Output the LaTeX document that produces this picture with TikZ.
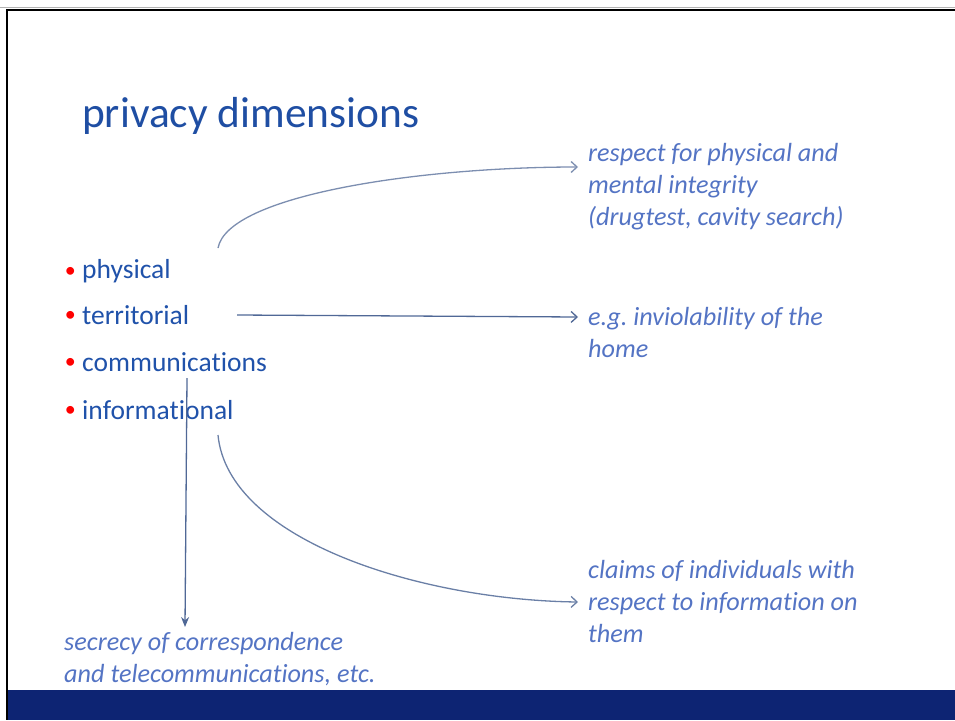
\documentclass[tikz,border=0pt]{standalone}
\usepackage{fontspec}
\setmainfont[Ligatures=NoCommon]{Carlito}
\usepackage{tikz}
\usetikzlibrary{positioning, arrows.meta}
\frenchspacing
\definecolor{titleblue}{RGB}{31,78,163}
\definecolor{itemblue}{RGB}{32,82,170}
\definecolor{notecol}{RGB}{84,116,196}
\definecolor{arrowcol}{RGB}{80,104,150}
\definecolor{bandblue}{RGB}{13,36,115}

\tikzset{
  item/.style={anchor=base west, inner sep=0pt, text=itemblue,
    font=\fontsize{27.5}{30}\selectfont,
    label={[text=red, font=\fontsize{22}{24}\selectfont, inner sep=0pt, xshift=-6pt, yshift=-2pt]left:\textbullet}},
  note/.style={anchor=north west, inner sep=0pt, text=notecol, align=left,
    font=\fontsize{26.2}{32}\selectfont\itshape},
  link/.style={arrowcol, line width=1.3pt, -{Straight Barb[length=6pt,width=11pt]}}
}

\begin{document}
\begin{tikzpicture}[x=1pt, y=-1pt]
        \useasboundingbox (0,0) rectangle (955,720);
        % slide frame and footer band
        \fill[bandblue] (7,690) rectangle (955,720);
        \draw[gray!60, thin] (0,7) -- (955,7);
        \draw[black, line width=2pt] (955,10) -- (7,10) -- (7,720);

        \node[anchor=base west, inner sep=0pt, text=titleblue,
          font=\fontsize{43.4}{48}\selectfont] (title) at (82,127) {privacy dimensions};

        % bullets
        \node[item] (phys) at (82,278) {physical};
        \node[item] (terr) at (82,324) {territorial};
        \node[item] (comm) at (82,371) {communications};
        \node[item] (info) at (82,419) {informational};

        % notes
        \node[note] (physnote) at (588,143) {respect for physical and\\mental integrity\\(drugtest, cavity search)};
        \node[note] (terrnote) at (588,307) {e.g. inviolability of the\\home};
        \node[note] (infonote) at (588,560) {claims of individuals with\\respect to information on\\them};
        \node[note] (commnote) at (64,632) {secrecy of correspondence\\and telecommunications, etc.};

        \coordinate (physout) at (218,248);
        \coordinate (terrout) at (237,315);
        \coordinate (commout) at (187,378);
        \coordinate (infoout) at (218,435);

        \draw[link, arrowcol!75] (physout) .. controls (228,195) and (420,167) .. ([xshift=-10pt,yshift=-24pt]physnote.north west);
        \draw[link] (terrout) -- ([xshift=-10pt]terrnote.north west |- 0,317);
        \draw[link, -{Stealth[length=10pt,width=8pt]}] (commout) -- ([yshift=5pt]commnote.north west -| 185,0);
        \draw[link, arrowcol!85] (infoout) .. controls (228,540) and (420,600) .. ([xshift=-10pt,yshift=-42pt]infonote.north west);
\end{tikzpicture}
\end{document}
